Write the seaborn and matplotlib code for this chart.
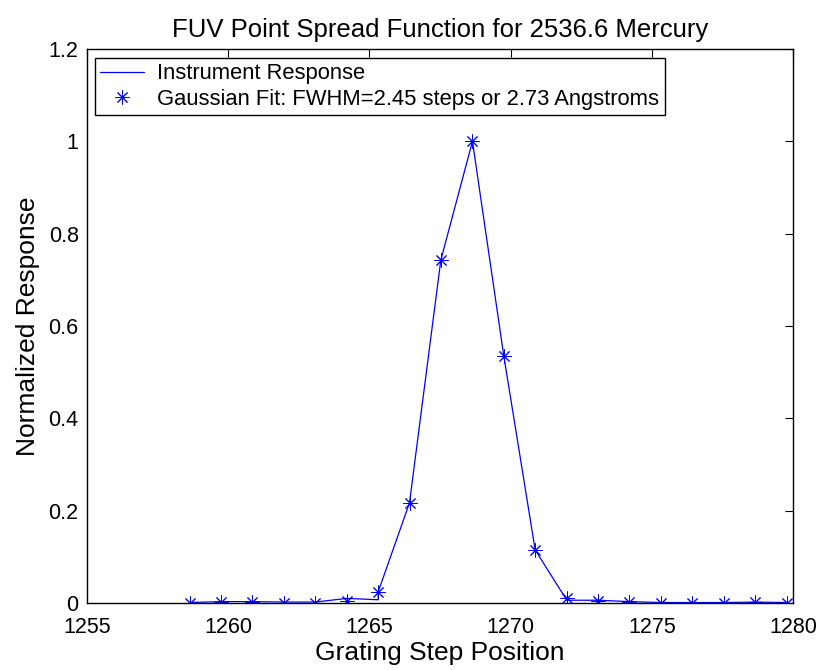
import numpy as np
import pandas as pd
import matplotlib
matplotlib.use("Agg")
import matplotlib.pyplot as plt
from matplotlib.ticker import FuncFormatter
import seaborn as sns

# Grating step positions sampled across the Hg 2536.6 line
fit_steps = [1258.63, 1259.74, 1260.86, 1261.97, 1263.08, 1264.20, 1265.31,
             1266.42, 1267.53, 1268.65, 1269.76, 1270.87, 1271.99, 1273.10,
             1274.21, 1275.33, 1276.44, 1277.55, 1278.66, 1279.78]
fit_values = [0.001, 0.002, 0.002, 0.001, 0.001, 0.005, 0.024,
              0.217, 0.743, 1.000, 0.535, 0.115, 0.011, 0.004,
              0.002, 0.001, 0.001, 0.001, 0.002, 0.001]

# Measured instrument response (the 1265.31 step was read twice)
resp_steps = [1258.63, 1259.74, 1260.86, 1261.97, 1263.08, 1264.20, 1265.31,
              1265.31, 1266.42, 1267.53, 1268.65, 1269.76, 1270.87, 1271.99,
              1273.10, 1274.21, 1275.33, 1276.44, 1277.55, 1278.66, 1279.78]
resp_values = [0.001, 0.003, 0.003, 0.002, 0.002, 0.010, 0.007,
               0.024, 0.217, 0.743, 1.000, 0.535, 0.115, 0.006,
               0.006, 0.003, 0.001, 0.001, 0.001, 0.002, 0.001]

x_ticks = [1255, 1260, 1265, 1270, 1275, 1280]
y_ticks = [0, 0.2, 0.4, 0.6, 0.8, 1.0, 1.2]

title = "FUV Point Spread Function for 2536.6 Mercury"
resp_label = "Instrument Response"
fit_label = "Gaussian Fit: FWHM=2.45 steps or 2.73 Angstroms"

sns.set_theme(style="white")
plt.rcParams["font.family"] = ["Liberation Sans", "DejaVu Sans"]
plt.rcParams["text.color"] = "black"
plt.rcParams["axes.labelcolor"] = "black"

fig = plt.figure(figsize=(8.22, 6.70), dpi=100)
ax = fig.add_axes([87 / 822, 1 - 603 / 670, 706 / 822, 554 / 670])

resp = pd.DataFrame({"step": resp_steps, "value": resp_values})
fit = pd.DataFrame({"step": fit_steps, "value": fit_values})

sns.lineplot(data=resp, x="step", y="value", ax=ax, estimator=None, sort=False,
             color="#0000ff", linewidth=0.9, label=resp_label)
sns.lineplot(data=fit, x="step", y="value", ax=ax, estimator=None, sort=False,
             color="#0000ff", linestyle="", marker=(8, 2, 0), markersize=10,
             markeredgewidth=0.7, markeredgecolor="#0000ff", label=fit_label)

ax.set_xlim(1255, 1280)
ax.set_ylim(0, 1.2)
ax.set_xticks(x_ticks)
ax.set_yticks(y_ticks)
ax.yaxis.set_major_formatter(FuncFormatter(lambda v, p: f"{v:g}"))
ax.tick_params(direction="in", length=6, width=0.8, top=True, right=True,
               labelsize=15.5, colors="black")
ax.tick_params(axis="x", pad=10)
ax.tick_params(axis="y", pad=6)
for s in ax.spines.values():
    s.set_color("black")
    s.set_linewidth(1.0)

ax.set_title(title, fontsize=18.5, pad=9, color="black")
ax.set_xlabel("Grating Step Position", fontsize=19, labelpad=2)
ax.set_ylabel("Normalized Response", fontsize=19, labelpad=6)

leg = ax.legend(loc="upper left", bbox_to_anchor=(0.011, 0.984), fontsize=15.8,
                frameon=True, fancybox=False, framealpha=1, edgecolor="black",
                borderpad=0.25, handlelength=2.0, handletextpad=0.6,
                labelspacing=0.2, borderaxespad=0)
leg.get_frame().set_linewidth(1.0)
for t in leg.get_texts():
    t.set_color("black")

fig.savefig("out.png", dpi=100, facecolor="white")
